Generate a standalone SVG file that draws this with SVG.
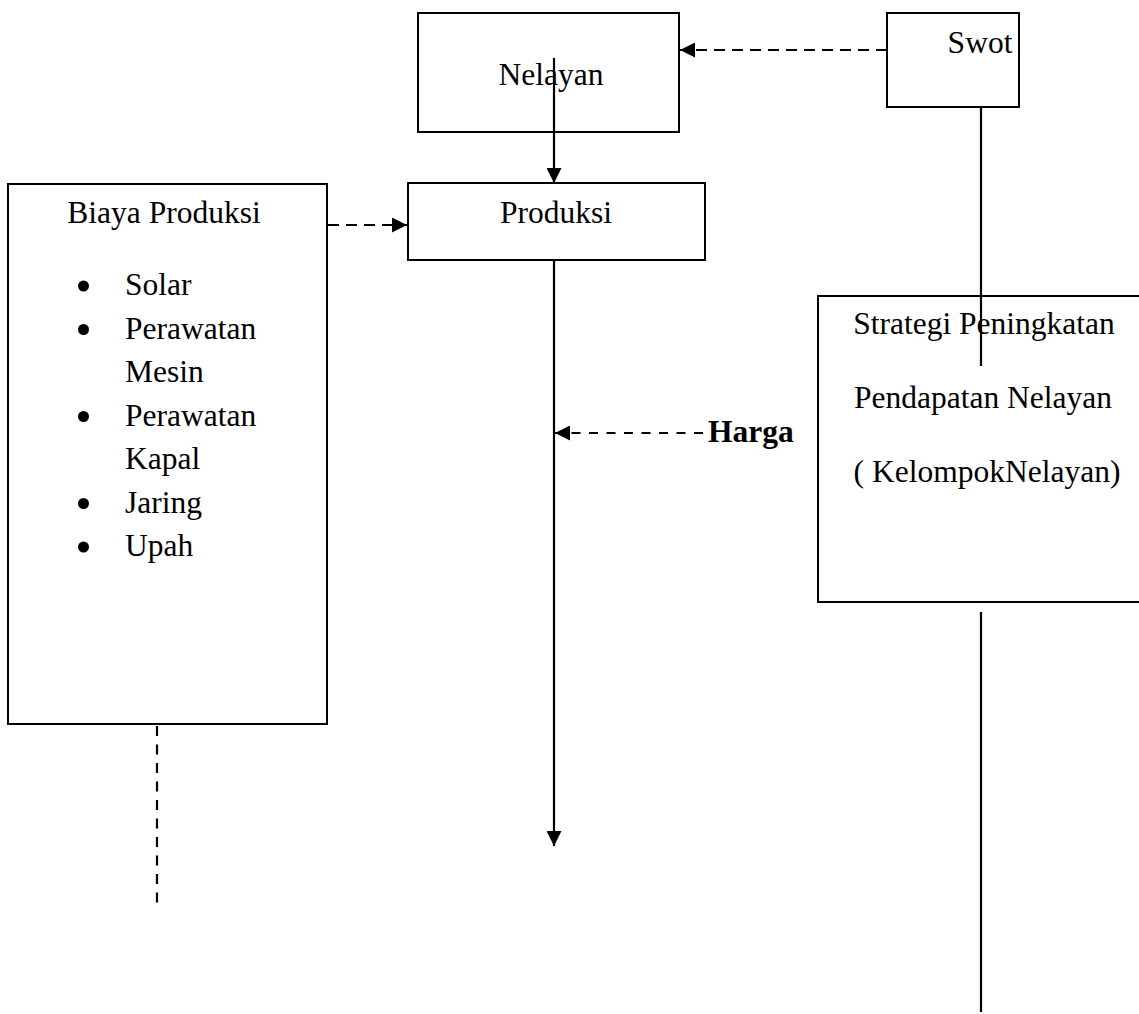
<svg xmlns="http://www.w3.org/2000/svg" width="1139" height="1014" viewBox="0 0 1139 1014">
  <style>
    .box { fill: #ffffff; stroke: #000000; stroke-width: 2; }
    .t { font-family: "Liberation Serif", "Times New Roman", serif; font-size: 31.5px; fill: #000000; }
    .c { text-anchor: middle; }
    .ln { stroke: #000000; stroke-width: 2.2; fill: none; }
    .dash { stroke-dasharray: 11 7; }
    .dash2 { stroke-dasharray: 9 8.5; }
    .dash3 { stroke-dasharray: 10 8.5; }
  </style>
  <defs>
    <marker id="arr" viewBox="0 0 10 10" refX="10" refY="5" markerWidth="16" markerHeight="15" markerUnits="userSpaceOnUse" orient="auto">
      <path d="M0,0 L10,5 L0,10 Z" fill="#000000"/>
    </marker>
  </defs>
  <rect width="1139" height="1014" fill="#ffffff"/>

  <g id="node-nelayan">
    <rect class="box" x="418" y="13" width="261" height="119"/>
    <text class="t c" x="551" y="85">Nelayan</text>
  </g>
  <g id="node-swot">
    <rect class="box" x="887" y="13" width="132" height="94"/>
    <text class="t c" x="980" y="53">Swot</text>
  </g>
  <g id="node-produksi">
    <rect class="box" x="408" y="183" width="297" height="77"/>
    <text class="t c" x="556" y="223">Produksi</text>
  </g>
  <g id="node-biaya">
    <rect class="box" x="8" y="184" width="319" height="540"/>
    <text class="t c" x="164" y="223">Biaya Produksi</text>
    <circle cx="83.5" cy="286" r="5.5"/>
    <text class="t" x="125" y="295">Solar</text>
    <circle cx="83.5" cy="329.5" r="5.5"/>
    <text class="t" x="125" y="338.5">Perawatan</text>
    <text class="t" x="125" y="382">Mesin</text>
    <circle cx="83.5" cy="416.5" r="5.5"/>
    <text class="t" x="125" y="425.5">Perawatan</text>
    <text class="t" x="125" y="469">Kapal</text>
    <circle cx="83.5" cy="503.5" r="5.5"/>
    <text class="t" x="125" y="512.5">Jaring</text>
    <circle cx="83.5" cy="547" r="5.5"/>
    <text class="t" x="125" y="556">Upah</text>
  </g>
  <g id="node-strategi">
    <rect class="box" x="818" y="296" width="340" height="306"/>
    <text class="t c" x="984" y="334">Strategi Peningkatan</text>
    <text class="t c" x="983" y="408">Pendapatan Nelayan</text>
    <text class="t c" x="987" y="482">( KelompokNelayan)</text>
  </g>
  <g id="node-harga">
    <text class="t" x="708" y="442" font-weight="bold">Harga</text>
  </g>

  <g id="connectors">
    <line class="ln dash" x1="887" y1="50" x2="680" y2="50" marker-end="url(#arr)"/>
    <line class="ln" x1="554" y1="58" x2="554" y2="183" marker-end="url(#arr)"/>
    <line class="ln dash" x1="328" y1="225" x2="407" y2="225" marker-end="url(#arr)"/>
    <line class="ln" x1="554" y1="260" x2="554" y2="846" marker-end="url(#arr)"/>
    <line class="ln dash2" x1="703" y1="433" x2="555" y2="433" marker-end="url(#arr)"/>
    <line class="ln" x1="981" y1="107" x2="981" y2="366"/>
    <line class="ln" x1="981" y1="612" x2="981" y2="1012"/>
    <line class="ln dash3" x1="157" y1="726" x2="157" y2="903"/>
  </g>
</svg>
